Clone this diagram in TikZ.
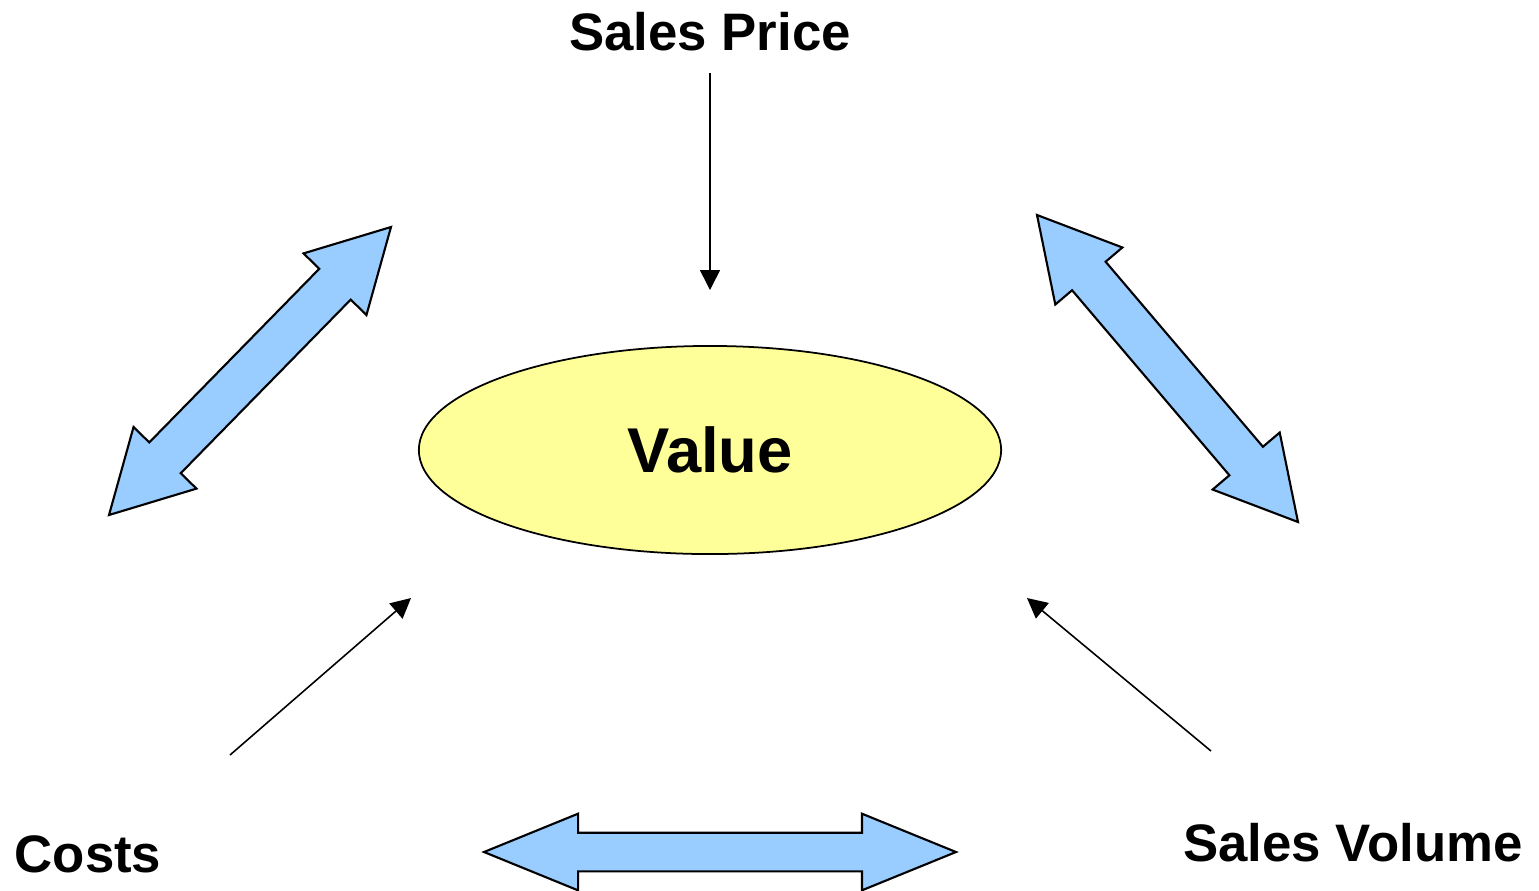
\documentclass[tikz,border=0pt]{standalone}
\usepackage{fontspec}
\setmainfont{Liberation Sans}
\usepackage{tikz}
\usetikzlibrary{calc,arrows.meta,shapes.geometric,positioning}

\definecolor{valuefill}{HTML}{FFFF99}
\definecolor{flowfill}{HTML}{99CCFF}

% block double arrow between two tips: #1,#2 tips, #3 head length, #4 half head, #5 half shaft
\newcommand{\bigarrow}[5]{%
  \draw[flow] (#1)
    -- ($(#1)!#3!(#2)!#4!90:(#2)$)
    -- ($(#1)!#3!(#2)!#5!90:(#2)$)
    -- ($(#2)!#3!(#1)!#5!-90:(#1)$)
    -- ($(#2)!#3!(#1)!#4!-90:(#1)$)
    -- (#2)
    -- ($(#2)!#3!(#1)!#4!90:(#1)$)
    -- ($(#2)!#3!(#1)!#5!90:(#1)$)
    -- ($(#1)!#3!(#2)!#5!-90:(#2)$)
    -- ($(#1)!#3!(#2)!#4!-90:(#2)$)
    -- cycle;}

\tikzset{
  label/.style={font=\bfseries\fontsize{15pt}{18pt}\selectfont, inner sep=0pt},
  flow/.style={draw=black, line width=0.6pt, fill=flowfill, line join=miter},
  push/.style={-{Triangle[length=0.2cm,width=0.2cm]}, line width=0.45pt}
}

\begin{document}
\begin{tikzpicture}[x=0.01cm,y=-0.01cm]
  \useasboundingbox (0,0) rectangle (1539,890);

  \node[ellipse, draw, line width=0.5pt, fill=valuefill, minimum width=5.82cm,
        minimum height=2.08cm, inner sep=0pt,
        font=\bfseries\fontsize{18pt}{21pt}\selectfont] (value) at (710,450) {Value};

  \node[label] (price) at (710,32) {Sales Price};
  \node[label] (costs) at (88,854) {Costs};
  \node[label] (volume) at (1353,843) {Sales Volume};

  % thin arrows into the value
  \coordinate (p1) at (710,73);
  \coordinate (p2) at (710,290);
  \coordinate (c1) at (230,755);
  \coordinate (c2) at (411,598);
  \coordinate (v1) at (1211,751);
  \coordinate (v2) at (1027,598);
  \draw[push] (p1) -- (p2);
  \draw[push] (c1) -- (c2);
  \draw[push] (v1) -- (v2);

  % trade-offs between the drivers
  \coordinate (l1) at (109,515);
  \coordinate (l2) at (391,227);
  \coordinate (r1) at (1037,215);
  \coordinate (r2) at (1298,522);
  \coordinate (b1) at (484,852);
  \coordinate (b2) at (956,852);
  \bigarrow{l1}{l2}{0.80cm}{0.44cm}{0.22cm}
  \bigarrow{r1}{r2}{0.80cm}{0.44cm}{0.22cm}
  \bigarrow{b1}{b2}{0.94cm}{0.383cm}{0.193cm}
\end{tikzpicture}
\end{document}
